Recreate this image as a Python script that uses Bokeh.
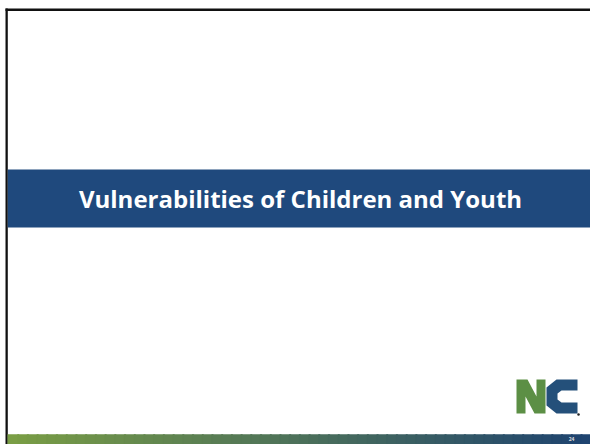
from bokeh.plotting import figure
from bokeh.models import Range1d
from bokeh.core.properties import value
from bokeh.embed import file_html
from bokeh.resources import INLINE
import numpy as np

# ---- content ----
title_text = ["Vulnerabilities of Children and Youth"]
page_number = ["24"]
band_color = "#1f497d"
grad_left = (122, 158, 69)
grad_right = (31, 68, 112)

W, H = 590, 444
p = figure(width=W, height=H, x_range=Range1d(0, W), y_range=Range1d(H, 0),
           output_backend="svg", toolbar_location=None, x_axis_type=None, y_axis_type=None,
           min_border=0, outline_line_color=None, background_fill_color="white",
           border_fill_color="white")
p.grid.visible = False

# slide frame (top and left dark edges)
p.quad(left=[5], right=[590], top=[8], bottom=[10.5], fill_color="#111111", line_color=None)
p.quad(left=[5], right=[7.3], top=[8], bottom=[444], fill_color="#111111", line_color=None)

# title band
p.quad(left=[7.3], right=[590], top=[169], bottom=[227], fill_color=band_color, line_color=None)
p.text(x=[300], y=[198], text=title_text, text_color="white", text_font=value("Open Sans"),
       text_font_style="bold", text_font_size="24px", text_align="center", text_baseline="middle")

# bottom gradient bar
n = 60
edges = np.linspace(7.3, 590, n + 1)
cols = []
for i in range(n):
    t = i / (n - 1)
    r = int(grad_left[0] + (grad_right[0] - grad_left[0]) * t)
    g = int(grad_left[1] + (grad_right[1] - grad_left[1]) * t)
    b = int(grad_left[2] + (grad_right[2] - grad_left[2]) * t)
    cols.append("#%02x%02x%02x" % (r, g, b))
p.quad(left=edges[:-1], right=edges[1:] + 1.5, top=434, bottom=444, fill_color=cols,
       line_color=cols, line_width=0.5)
p.text(x=[571], y=[438], text=page_number, text_color="#dddddd", text_font=value("Open Sans"),
       text_font_style="bold", text_font_size="5px", text_align="center", text_baseline="middle")

# NC logo (blocky letters)
nx = [516, 516, 527, 536, 536, 545, 545, 534, 525, 525]
ny = [413, 379, 379, 396, 379, 379, 413, 413, 396, 413]
cx = [577, 556, 546, 546, 556, 577, 577, 561, 557, 557, 561, 577]
cy = [379, 379, 387, 405, 413, 413, 402, 402, 399, 393, 390, 390]
p.patch(nx, ny, fill_color="#5c8f45", line_color=None)
p.patch(cx, cy, fill_color="#24507a", line_color=None)
p.scatter(x=[578], y=[414], size=2.5, fill_color="#222222", line_color=None)

open("out.html", "w").write(file_html(p, INLINE))
